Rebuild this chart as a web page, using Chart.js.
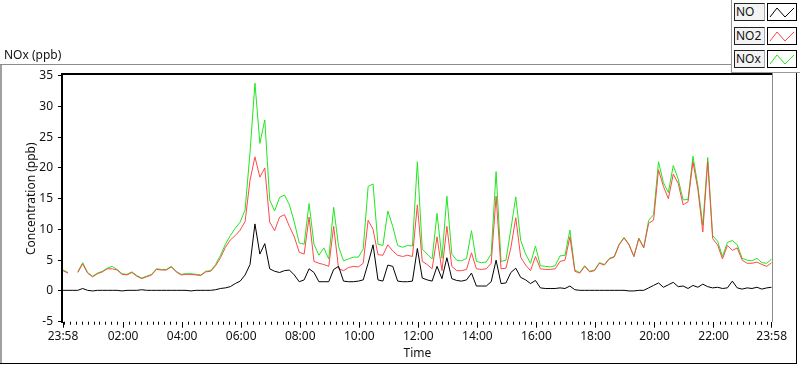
<!DOCTYPE html>
<html>
<head>
<meta charset="utf-8">
<title>NOx (ppb)</title>
<script src="https://cdn.jsdelivr.net/npm/chart.js@4.4.1/dist/chart.umd.min.js"></script>
<style>
    body { margin: 0; background: #fff; }
    #wrap { position: relative; width: 800px; height: 365px; overflow: hidden;
            font-family: 'Segoe UI', 'Noto Sans', sans-serif; color: #111; }
    #chart { position: absolute; left: 0; top: 0; }
    .rule { position: absolute; }
    #graphName { position: absolute; left: 4px; top: 48px; font-size: 12px; line-height: 14px; }
    #legend { position: absolute; left: 731px; top: 0; width: 69px; height: 73px;
              border-left: 1px solid #999; border-bottom: 1px solid #999; box-sizing: border-box; }
    .row { position: absolute; left: 2px; width: 64px; height: 18px; }
    .lab { position: absolute; left: 0; top: 0; width: 31px; height: 18px; box-sizing: border-box;
           border: 1px solid #222; border-right-color: #aaa; background: #f3f3f3;
           font-size: 12px; line-height: 16px; padding-left: 1px; }
    .swatch { position: absolute; left: 33px; top: 0; width: 30px; height: 18px; box-sizing: border-box;
              border: 1px solid #000; background: #fff; }
    .swatch svg { position: absolute; left: 0; top: 0; }
</style>
</head>
<body>
<div id="wrap">
    <canvas id="chart" width="800" height="365"></canvas>
    <div id="graphName">NOx (ppb)</div>
    <div class="rule" style="left:0;top:64px;width:731px;height:1px;background:#8c8c8c"></div>
    <div class="rule" style="left:0;top:65px;width:2px;height:299px;background:#a0a0a0"></div>
    <div class="rule" style="left:0;top:363px;width:797px;height:1px;background:#000"></div>
    <div class="rule" style="left:796px;top:73px;width:1px;height:291px;background:#000"></div>
    <div id="legend"></div>
</div>
<script>
// Minutes after 23:58, one reading every 10 minutes (0 .. 1440)
const START_MIN = 23 * 60 + 58;
const STEP_MIN = 10;

const seriesNames = ['NO', 'NO2', 'NOx'];
const seriesColors = ['#000000', '#ff4848', '#22e61e'];

// NO (ppb)
const noValues = [
    0.1, 0.1, 0.1, 0.1, 0.4, 0.1, 0.0, 0.1, 0.1, 0.1,
    0.1, 0.1, 0.0, 0.1, 0.1, 0.1, 0.2, 0.1, 0.1, 0.1,
    0.1, 0.1, 0.1, 0.1, 0.1, 0.1, 0.0, 0.1, 0.1, 0.1,
    0.1, 0.2, 0.4, 0.5, 0.7, 1.2, 1.6, 2.6, 4.3, 10.9,
    6.0, 7.7, 3.6, 3.2, 3.0, 3.3, 3.4, 2.6, 1.5, 1.8,
    3.6, 3.0, 1.5, 1.5, 1.5, 3.5, 4.0, 1.6, 1.5, 1.5,
    1.6, 1.8, 4.5, 7.5, 1.8, 1.6, 4.2, 4.0, 1.6, 1.5,
    1.5, 1.6, 6.9, 2.1, 1.8, 1.6, 4.0, 2.0, 5.4, 2.0,
    1.7, 1.6, 1.8, 2.9, 0.8, 0.8, 0.8, 1.5, 5.0, 1.2,
    1.3, 3.0, 3.7, 2.2, 1.8, 1.2, 1.7, 0.5, 0.4, 0.4,
    0.4, 0.5, 0.4, 0.8, 0.2, 0.1, 0.1, 0.1, 0.1, 0.1,
    0.1, 0.1, 0.1, 0.1, 0.1, 0.0, 0.0, 0.1, 0.1, 0.5,
    0.9, 1.3, 0.6, 1.0, 1.4, 0.7, 0.8, 0.4, 0.9, 0.6,
    1.1, 0.7, 0.5, 0.6, 0.4, 0.5, 1.6, 0.5, 0.3, 0.5,
    0.4, 0.6, 0.3, 0.5, 0.6
];

// NO2 (ppb), null = missing reading
const no2Values = [
    3.3, 2.9, null, 3.0, 4.4, 2.9, 2.3, 2.8, 3.1, 3.6,
    3.6, 3.4, 2.7, 2.6, 3.0, 2.4, 2.0, 2.3, 2.6, 3.5,
    3.4, 3.4, 3.9, 3.1, 2.6, 2.7, 2.7, 2.6, 2.5, 3.1,
    3.2, 4.1, 5.4, 7.1, 8.3, 9.0, 9.9, 11.3, 18.0, 21.8,
    18.5, 20.0, 11.2, 9.8, 12.0, 12.4, 10.5, 8.8, 6.3, 6.0,
    12.0, 4.8, 4.5, 4.3, 4.0, 10.5, 3.6, 3.3, 3.8, 4.0,
    3.9, 4.5, 11.5, 10.0, 5.9, 5.8, 7.5, 6.5, 5.8, 5.6,
    5.8, 5.6, 14.0, 4.8, 4.3, 3.6, 8.8, 3.3, 10.5, 4.0,
    3.3, 3.3, 3.5, 6.2, 3.6, 3.5, 3.6, 4.5, 15.4, 3.6,
    3.7, 7.0, 11.9, 5.5, 4.2, 3.3, 5.6, 3.6, 3.5, 3.5,
    3.6, 4.8, 5.0, 8.8, 3.2, 2.9, 4.0, 3.1, 3.3, 4.5,
    4.2, 5.2, 5.5, 7.5, 8.6, 7.5, 5.6, 8.5, 7.0, 11.0,
    11.5, 19.7, 17.0, 15.0, 19.0, 17.5, 14.0, 14.5, 21.0, 16.5,
    9.6, 21.0, 8.5, 7.5, 5.2, 7.4, 6.6, 7.0, 5.0, 4.5,
    4.5, 4.7, 4.3, 4.0, 4.6
];

// NOx (ppb)
const noxValues = [
    3.4, 3.0, null, 3.1, 4.6, 3.0, 2.4, 2.9, 3.2, 3.7,
    4.0, 3.5, 2.8, 2.7, 3.1, 2.5, 2.1, 2.4, 2.7, 3.6,
    3.5, 3.5, 4.0, 3.2, 2.7, 2.8, 2.8, 2.7, 2.6, 3.2,
    3.3, 4.3, 5.8, 7.6, 9.0, 10.2, 11.2, 13.2, 22.5, 33.8,
    24.0, 27.8, 14.8, 13.0, 15.2, 15.6, 14.0, 11.2, 7.8, 7.6,
    14.2, 7.6, 5.8, 7.0, 5.2, 13.6, 7.2, 4.9, 5.2, 5.5,
    5.5, 6.8, 17.0, 17.4, 7.6, 7.4, 13.0, 10.5, 7.4, 7.1,
    7.4, 7.3, 21.0, 6.8, 6.0, 5.2, 12.6, 5.3, 15.4, 6.0,
    5.0, 4.9, 5.3, 9.8, 4.8, 4.6, 4.7, 6.0, 19.4, 4.8,
    5.0, 10.0, 15.3, 8.2, 6.0, 4.5, 7.3, 4.1, 4.0, 3.9,
    4.1, 5.7, 5.8, 9.9, 3.4, 3.0, 4.1, 3.2, 3.4, 4.6,
    4.3, 5.3, 5.6, 7.6, 8.7, 7.6, 5.6, 8.6, 7.1, 11.5,
    12.4, 21.0, 17.6, 16.0, 20.4, 18.2, 14.8, 14.9, 21.9, 17.1,
    10.7, 21.7, 9.0, 8.1, 5.6, 7.9, 8.2, 7.5, 5.3, 5.0,
    4.9, 5.3, 4.6, 4.5, 5.2
];

// Axis ticks (minutes after 23:58)
const xMajorTicks = [0, 122, 242, 362, 482, 602, 722, 842, 962, 1082, 1202, 1322, 1440];
const yTicks = [-5, 0, 5, 10, 15, 20, 25, 30, 35];

const FONT = "'Segoe UI', 'Noto Sans', sans-serif";

// minor ticks every 12 minutes, aligned to the 2 hour grid
const xMinorTicks = [];
for (let t = 2; t < 1440; t += 12) {
    if (!xMajorTicks.includes(t)) xMinorTicks.push(t);
}

function toPoints(values) {
    return values.map((v, i) => ({ x: i * STEP_MIN, y: v }));
}

function clockLabel(v) {
    const m = (START_MIN + v) % 1440;
    const hh = String(Math.floor(m / 60)).padStart(2, '0');
    const mm = String(m % 60).padStart(2, '0');
    return `${hh}:${mm}`;
}

// LabVIEW-like frame around the plot area + minor x ticks
const plotFrame = {
    id: 'plotFrame',
    afterDraw(chart) {
        const { ctx, chartArea: a, scales: { x } } = chart;
        const top = Math.round(a.top);
        const left = Math.round(a.left);
        ctx.save();
        // dark top and left edges, 2px
        ctx.lineWidth = 2;
        ctx.strokeStyle = '#000';
        ctx.beginPath();
        ctx.moveTo(left - 2, top - 2);
        ctx.lineTo(Math.round(a.right), top - 2);
        ctx.moveTo(left - 1, top - 2);
        ctx.lineTo(left - 1, Math.round(a.bottom) + 1);
        ctx.stroke();

        ctx.lineWidth = 1;
        ctx.strokeStyle = '#8a8a8a';
        ctx.beginPath();
        ctx.moveTo(Math.round(a.right) + 0.5, top - 3);
        ctx.lineTo(Math.round(a.right) + 0.5, a.bottom);
        ctx.stroke();

        ctx.strokeStyle = '#000';
        ctx.beginPath();
        xMinorTicks.forEach(v => {
            const px = Math.round(x.getPixelForValue(v)) + 0.5;
            ctx.moveTo(px, a.bottom);
            ctx.lineTo(px, a.bottom + 3);
        });
        ctx.stroke();
        ctx.restore();
    }
};

const valueSets = [noValues, no2Values, noxValues];

new Chart(document.getElementById('chart'), {
    type: 'line',
    data: {
        datasets: seriesNames.map((name, k) => ({
            label: name,
            data: toPoints(valueSets[k]),
            borderColor: seriesColors[k],
            borderWidth: 1,
            pointRadius: 0,
            tension: 0,
            spanGaps: false,
            fill: false,
        }))
    },
    options: {
        responsive: false,
        animation: false,
        devicePixelRatio: 1,
        layout: { padding: { left: 0, right: 28.3, top: 75.7, bottom: 0 } },
        plugins: {
            legend: { display: false },
            tooltip: { enabled: false },
        },
        scales: {
            x: {
                type: 'linear',
                min: 0,
                max: 1440,
                afterFit: s => { s.height = 43.3; },
                afterBuildTicks: s => { s.ticks = xMajorTicks.map(v => ({ value: v })); },
                border: { display: false },
                grid: { drawOnChartArea: false, drawTicks: true, tickLength: 6, tickColor: '#000', tickWidth: 1 },
                ticks: {
                    autoSkip: false, maxRotation: 0, padding: 2,
                    color: '#111', font: { family: FONT, size: 12 },
                    callback: v => clockLabel(v),
                },
                title: {
                    display: true, text: 'Time', color: '#111',
                    font: { family: FONT, size: 12 }, padding: { top: 0, bottom: 4 },
                },
            },
            y: {
                min: -5,
                max: 35,
                afterFit: s => { s.width = 63; },
                afterBuildTicks: s => { s.ticks = yTicks.map(v => ({ value: v })); },
                border: { display: false },
                grid: { drawOnChartArea: false, drawTicks: true, tickLength: 5, tickColor: '#000', tickWidth: 1 },
                ticks: {
                    padding: 5, color: '#111', font: { family: FONT, size: 12 },
                },
                title: {
                    display: true, text: 'Concentration (ppb)', color: '#111',
                    font: { family: FONT, size: 12 }, padding: { top: 24, bottom: 0 },
                },
            },
        },
    },
    plugins: [plotFrame],
});

// plot legend (LabVIEW style name boxes with line samples)
const legendRows = [3, 27, 50];
const legendIcon = '2,13 9,4 17,13 26,4';
const legend = document.getElementById('legend');
seriesNames.forEach((name, k) => {
    const row = document.createElement('div');
    row.className = 'row';
    row.style.top = legendRows[k] + 'px';
    row.innerHTML =
        `<div class="lab">${name}</div>` +
        `<div class="swatch"><svg width="28" height="16" viewBox="0 0 28 16">` +
        `<polyline points="${legendIcon}" fill="none" stroke="${seriesColors[k]}" stroke-width="1"/></svg></div>`;
    legend.appendChild(row);
});
</script>
</body>
</html>
